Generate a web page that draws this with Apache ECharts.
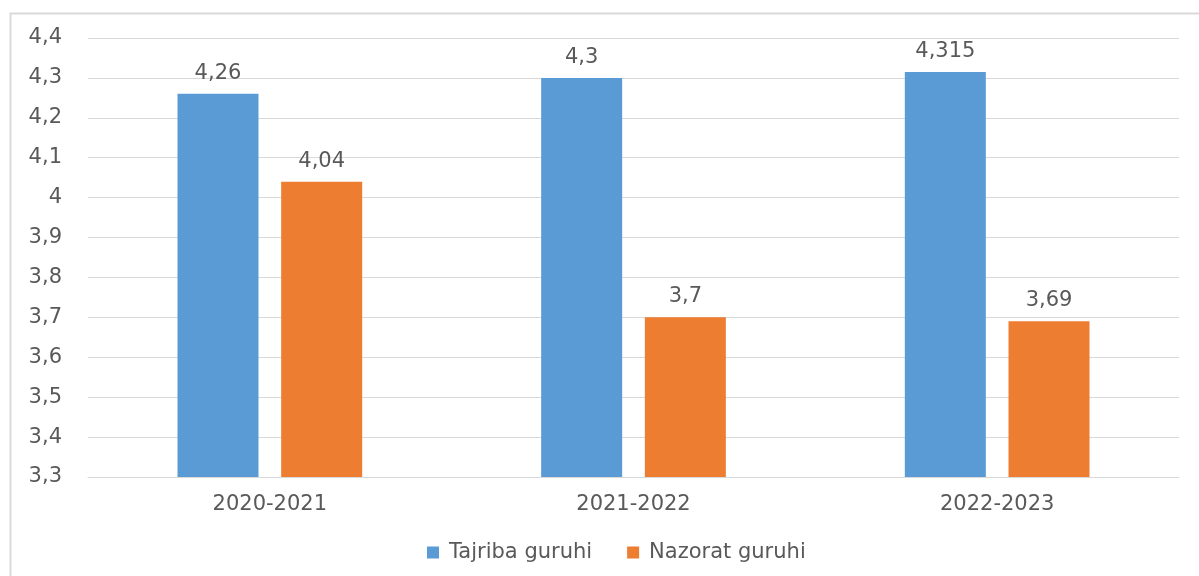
<!DOCTYPE html>
<html><head><meta charset="utf-8">
<script src="https://cdn.jsdelivr.net/npm/echarts@6/dist/echarts.min.js"></script>
<style>html,body{margin:0;padding:0;background:#fff}#c{width:1199px;height:576px}</style>
</head><body><div id="c"></div>
<script>
const categories = ['2020-2021', '2021-2022', '2022-2023'];
const tajriba = [4.26, 4.3, 4.315];
const nazorat = [4.04, 3.7, 3.69];
const seriesNames = ['Tajriba guruhi', 'Nazorat guruhi'];
const fmt = v => String(v).replace('.', ',');
const font = 'DejaVu Sans, sans-serif';
const chart = echarts.init(document.getElementById('c'));
chart.setOption({
  animation: false,
  graphic: [{type:'rect', shape:{x:10.5, y:13.5, width:1220, height:600}, style:{fill:'none', stroke:'#d9d9d9', lineWidth:2}, silent:true}],
  grid: {left: 88, right: 20, top: 38, bottom: 99},
  legend: {top: 537, left: 422, itemWidth: 12, itemHeight: 12, itemGap: 35, icon: 'rect',
    textStyle: {color: '#595959', fontSize: 21, fontFamily: font, padding: [0, 0, 0, 5]}, data: seriesNames},
  xAxis: {type: 'category', data: categories,
    axisLine: {lineStyle: {color: '#d9d9d9'}}, axisTick: {show: false},
    axisLabel: {color: '#595959', fontSize: 21, fontFamily: font, margin: 17}},
  yAxis: {type: 'value', min: 3.3, max: 4.4, interval: 0.1,
    axisLine: {show: false}, axisTick: {show: false},
    splitLine: {lineStyle: {color: '#d9d9d9'}},
    axisLabel: {color: '#595959', fontSize: 21, fontFamily: font, margin: 26, padding: [4, 0, 0, 0], formatter: v => fmt(+v.toFixed(2))}},
  series: [
    {name: seriesNames[0], type: 'bar', data: tajriba, barWidth: 81, barGap: '28%', itemStyle: {color: '#5B9BD5'},
     label: {show: true, position: 'top', distance: 10, color: '#595959', fontSize: 21, fontFamily: font, formatter: p => fmt(p.value)}},
    {name: seriesNames[1], type: 'bar', data: nazorat, barWidth: 81, itemStyle: {color: '#ED7D31'},
     label: {show: true, position: 'top', distance: 10, color: '#595959', fontSize: 21, fontFamily: font, formatter: p => fmt(p.value)}}
  ]
});
</script></body></html>
